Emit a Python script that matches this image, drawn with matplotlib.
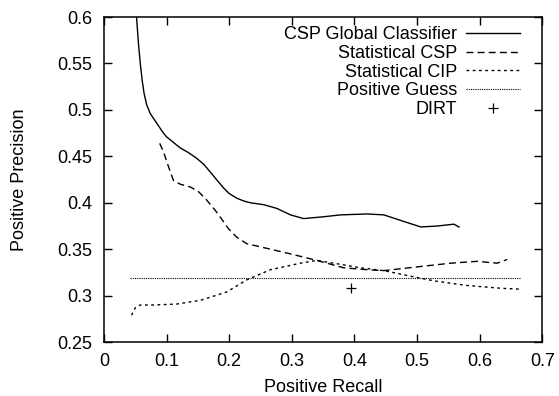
import matplotlib
matplotlib.use("Agg")
import matplotlib.pyplot as plt

plt.rcParams['font.family'] = ['Liberation Sans', 'DejaVu Sans']

# CSP Global Classifier (solid)
glob_x = [0.050, 0.052, 0.055, 0.058, 0.061, 0.064, 0.068, 0.074, 0.084, 0.095, 0.100,
          0.111, 0.122, 0.135, 0.148, 0.160, 0.170, 0.181, 0.191, 0.200, 0.212, 0.223,
          0.234, 0.255, 0.276, 0.298, 0.319, 0.351, 0.378, 0.420, 0.447, 0.474, 0.506,
          0.532, 0.559, 0.567]
glob_y = [0.620, 0.600, 0.572, 0.550, 0.532, 0.518, 0.506, 0.496, 0.486, 0.475, 0.471,
          0.465, 0.459, 0.454, 0.448, 0.441, 0.433, 0.424, 0.416, 0.410, 0.405, 0.402,
          0.400, 0.398, 0.394, 0.387, 0.383, 0.385, 0.387, 0.388, 0.387, 0.381, 0.374,
          0.375, 0.377, 0.374]

# Statistical CSP (dashed)
csp_x = [0.089, 0.095, 0.103, 0.111, 0.122, 0.138, 0.151, 0.164, 0.180, 0.199, 0.212,
         0.228, 0.260, 0.298, 0.340, 0.383, 0.420, 0.447, 0.500, 0.554, 0.596, 0.628,
         0.644]
csp_y = [0.464, 0.455, 0.439, 0.424, 0.420, 0.417, 0.412, 0.403, 0.390, 0.372, 0.363,
         0.356, 0.351, 0.345, 0.338, 0.330, 0.328, 0.327, 0.331, 0.335, 0.337, 0.335,
         0.339]

# Statistical CIP (short dashes)
cip_x = [0.044, 0.050, 0.058, 0.080, 0.116, 0.154, 0.196, 0.228, 0.266, 0.314, 0.340,
         0.367, 0.410, 0.447, 0.490, 0.527, 0.580, 0.634, 0.666]
cip_y = [0.279, 0.287, 0.290, 0.290, 0.291, 0.295, 0.304, 0.317, 0.328, 0.335, 0.338,
         0.335, 0.330, 0.327, 0.321, 0.316, 0.311, 0.308, 0.307]

# Positive Guess (dotted)
guess_x = [0.042, 0.666]
guess_y = [0.319, 0.319]

# DIRT point
dirt_x = [0.395]
dirt_y = [0.3085]

fig = plt.figure(figsize=(5.59, 3.96), dpi=100)
ax = fig.add_axes([0.186, 0.136, 0.784, 0.821])

ax.plot(glob_x, glob_y, color='black', lw=1.0, label='CSP Global Classifier')
ax.plot(csp_x, csp_y, color='black', lw=1.0, dashes=(5, 3), label='Statistical CSP')
ax.plot(cip_x, cip_y, color='black', lw=1.0, dashes=(2, 2.5), label='Statistical CIP')
ax.plot(guess_x, guess_y, color='black', lw=0.8, dashes=(1, 1), label='Positive Guess')
ax.plot(dirt_x, dirt_y, linestyle='none', marker='+', color='black', ms=7, mew=0.9,
        label='DIRT')

ax.set_xlim(0, 0.7)
ax.set_ylim(0.25, 0.6)
ax.set_xticks([0, 0.1, 0.2, 0.3, 0.4, 0.5, 0.6, 0.7])
ax.set_xticklabels(['0', '0.1', '0.2', '0.3', '0.4', '0.5', '0.6', '0.7'])
ax.set_yticks([0.25, 0.3, 0.35, 0.4, 0.45, 0.5, 0.55, 0.6])
ax.set_yticklabels(['0.25', '0.3', '0.35', '0.4', '0.45', '0.5', '0.55', '0.6'])
ax.tick_params(direction='in', length=6, width=1, top=True, right=True, labelsize=13)
ax.tick_params(axis='x', pad=8)
ax.tick_params(axis='y', pad=8.5)
for s in ax.spines.values():
    s.set_linewidth(1.1)

ax.set_xlabel('Positive Recall', fontsize=13, labelpad=6)
ax.set_ylabel('Positive Precision', fontsize=13, labelpad=21)

ax.legend(loc='upper right', frameon=False, markerfirst=False, fontsize=13,
          handlelength=3.0, handletextpad=0.5, labelspacing=0.1,
          borderaxespad=0.1, bbox_to_anchor=(0.97, 1.0))

fig.savefig('out.png', dpi=100)
